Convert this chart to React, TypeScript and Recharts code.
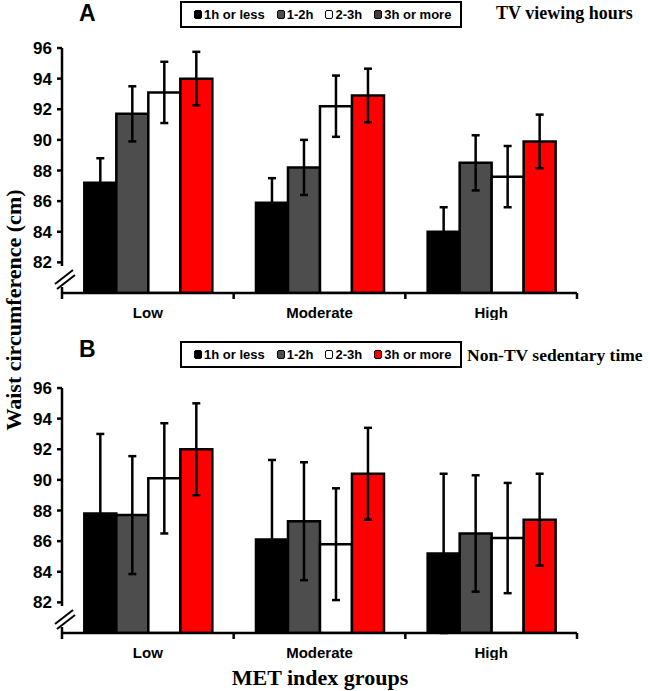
import React from "react";
import { BarChart, Bar, XAxis, YAxis, ErrorBar } from "recharts";

const CATEGORIES = ["Low", "Moderate", "High"];
const SERIES_NAMES = ["1h or less", "1-2h", "2-3h", "3h or more"];
const SERIES_FILLS = ["#000000", "#4d4d4d", "#ffffff", "#ff0000"];
const Y_TICKS = [80, 82, 84, 86, 88, 90, 92, 94, 96];

// panel A: TV viewing hours
const TV_1H = [87.2, 85.9, 84.0];
const TV_1_2H = [91.7, 88.2, 88.5];
const TV_2_3H = [93.1, 92.2, 87.6];
const TV_3H = [94.0, 92.9, 89.9];
const TV_ERR_1H = [1.6, 1.6, 1.6];
const TV_ERR_1_2H = [1.8, 1.8, 1.8];
const TV_ERR_2_3H = [2.0, 2.0, 2.0];
const TV_ERR_3H = [1.75, 1.75, 1.75];

// panel B: non-TV sedentary time
const NTV_1H = [87.8, 86.1, 85.2];
const NTV_1_2H = [87.7, 87.3, 86.5];
const NTV_2_3H = [90.1, 85.8, 86.2];
const NTV_3H = [92.0, 90.4, 87.4];
const NTV_ERR_1H = [5.2, 5.2, 5.2];
const NTV_ERR_1_2H = [3.85, 3.85, 3.8];
const NTV_ERR_2_3H = [3.6, 3.65, 3.6];
const NTV_ERR_3H = [3.0, 3.0, 3.0];

const SANS = "'Liberation Sans', Arial, sans-serif";
const SERIF = "'Liberation Serif', 'Times New Roman', serif";

const CHART_W = 600;
const CHART_H = 320;
const MARGIN = { top: 48, right: 23, left: 0, bottom: 0 };
const Y_AXIS_W = 62;
const BAND = (CHART_W - MARGIN.right - MARGIN.left - Y_AXIS_W) / CATEGORIES.length;

const Y_TICK_SIZE = 5;
const Y_TICK_MARGIN = 5;
const X_TICK_SIZE = 8;
const X_TICK_MARGIN = 6;

const buildRows = (means: number[][], errs: number[][]) =>
  CATEGORIES.map((cat, i) => {
    const row: any = { cat };
    means.forEach((m, s) => {
      row["s" + s] = m[i];
      row["e" + s] = errs[s][i];
    });
    return row;
  });

const YTick = (props: any) => {
  const { x, y, payload } = props;
  const ax = x + Y_TICK_SIZE + Y_TICK_MARGIN;
  if (payload.value === 80) {
    // axis break mark
    return (
      <g>
        <rect x={ax - 3} y={y - 27} width={6} height={21} fill="#fff" />
        <line x1={ax - 7} y1={y - 9} x2={ax + 11} y2={y - 23} stroke="#000" strokeWidth={2} />
        <line x1={ax - 5} y1={y - 4} x2={ax + 13} y2={y - 18} stroke="#000" strokeWidth={2} />
      </g>
    );
  }
  return (
    <g>
      <line x1={ax - Y_TICK_SIZE} y1={y} x2={ax} y2={y} stroke="#000" strokeWidth={2.5} />
      <text x={x} y={y} dy="0.36em" textAnchor="end" fontFamily={SANS} fontWeight="bold" fontSize={17} fill="#000">
        {payload.value}
      </text>
    </g>
  );
};

const CatTick = (props: any) => {
  const { x, y, payload, index } = props;
  const axisY = y - X_TICK_SIZE - X_TICK_MARGIN;
  const half = BAND / 2;
  return (
    <g>
      <line x1={x - half} y1={axisY} x2={x - half} y2={axisY + 6} stroke="#000" strokeWidth={2.5} />
      {index === CATEGORIES.length - 1 && (
        <line x1={x + half} y1={axisY} x2={x + half} y2={axisY + 6} stroke="#000" strokeWidth={2.5} />
      )}
      <text x={x} y={y} dy="0.71em" textAnchor="middle" fontFamily={SANS} fontWeight="bold" fontSize={15} fill="#000">
        {payload.value}
      </text>
    </g>
  );
};

const LegendBox = ({ top, iconFills }: { top: number; iconFills: string[] }) => (
  <div
    style={{
      position: "absolute",
      left: 180,
      top,
      width: 282,
      height: 27,
      border: "2px solid #000",
      boxSizing: "border-box",
      display: "flex",
      alignItems: "center",
      paddingLeft: 12,
      fontFamily: SANS,
      fontWeight: "bold",
      fontSize: 13,
      whiteSpace: "nowrap",
      background: "#fff",
    }}
  >
    {SERIES_NAMES.map((n, i) => (
      <span key={n} style={{ display: "flex", alignItems: "center", marginRight: 12, flexShrink: 0 }}>
        <span
          style={{
            width: 8,
            height: 9,
            background: iconFills[i],
            border: "1.5px solid #000",
            borderRadius: 2,
            boxSizing: "border-box",
            marginRight: 2,
            flexShrink: 0,
          }}
        />
        {n}
      </span>
    ))}
  </div>
);

const Panel = ({ top, means, errs }: { top: number; means: number[][]; errs: number[][] }) => {
  const rows = buildRows(means, errs);
  return (
    <div style={{ position: "absolute", left: 0, top }}>
      <BarChart width={CHART_W} height={CHART_H} data={rows} margin={MARGIN} barCategoryGap="13%" barGap={0}>
        <XAxis
          dataKey="cat"
          height={27}
          interval={0}
          tickLine={false}
          tickSize={X_TICK_SIZE}
          tickMargin={X_TICK_MARGIN}
          tick={<CatTick />}
          axisLine={{ stroke: "#000", strokeWidth: 2.5 }}
        />
        <YAxis
          width={Y_AXIS_W}
          domain={[80, 96]}
          ticks={Y_TICKS}
          interval={0}
          allowDataOverflow
          tickLine={false}
          tickSize={Y_TICK_SIZE}
          tickMargin={Y_TICK_MARGIN}
          tick={<YTick />}
          axisLine={{ stroke: "#000", strokeWidth: 2.5 }}
        />
        {SERIES_NAMES.map((n, s) => (
          <Bar
            key={n}
            dataKey={"s" + s}
            name={n}
            fill={SERIES_FILLS[s]}
            stroke="#000"
            strokeWidth={2.5}
            isAnimationActive={false}
          >
            <ErrorBar dataKey={"e" + s} width={4} stroke="#000" strokeWidth={2.5} direction="y" isAnimationActive={false} />
          </Bar>
        ))}
      </BarChart>
    </div>
  );
};

export default function App() {
  return (
    <div style={{ position: "absolute", left: 0, top: 0, width: 650, height: 691, background: "#fff" }}>
      <Panel
        top={0}
        means={[TV_1H, TV_1_2H, TV_2_3H, TV_3H]}
        errs={[TV_ERR_1H, TV_ERR_1_2H, TV_ERR_2_3H, TV_ERR_3H]}
      />
      <Panel
        top={340}
        means={[NTV_1H, NTV_1_2H, NTV_2_3H, NTV_3H]}
        errs={[NTV_ERR_1H, NTV_ERR_1_2H, NTV_ERR_2_3H, NTV_ERR_3H]}
      />
      <LegendBox top={1} iconFills={["#000", "#4d4d4d", "#fff", "#4a3a3a"]} />
      <LegendBox top={341} iconFills={SERIES_FILLS} />
      <svg width={650} height={691} style={{ position: "absolute", left: 0, top: 0, pointerEvents: "none" }}>
        <text x={79} y={21} fontFamily={SANS} fontWeight="bold" fontSize={23}>A</text>
        <text x={79} y={357} fontFamily={SANS} fontWeight="bold" fontSize={23}>B</text>
        <text x={496} y={19} fontFamily={SERIF} fontWeight="bold" fontSize={18}>TV viewing hours</text>
        <text x={467} y={361} fontFamily={SERIF} fontWeight="bold" fontSize={17.5}>Non-TV sedentary time</text>
        <text
          x={0}
          y={0}
          transform="translate(21,310) rotate(-90)"
          textAnchor="middle"
          fontFamily={SERIF}
          fontWeight="bold"
          fontSize={22}
        >
          Waist circumference (cm)
        </text>
        <text x={320} y={685} textAnchor="middle" fontFamily={SERIF} fontWeight="bold" fontSize={22}>
          MET index groups
        </text>
      </svg>
    </div>
  );
}
